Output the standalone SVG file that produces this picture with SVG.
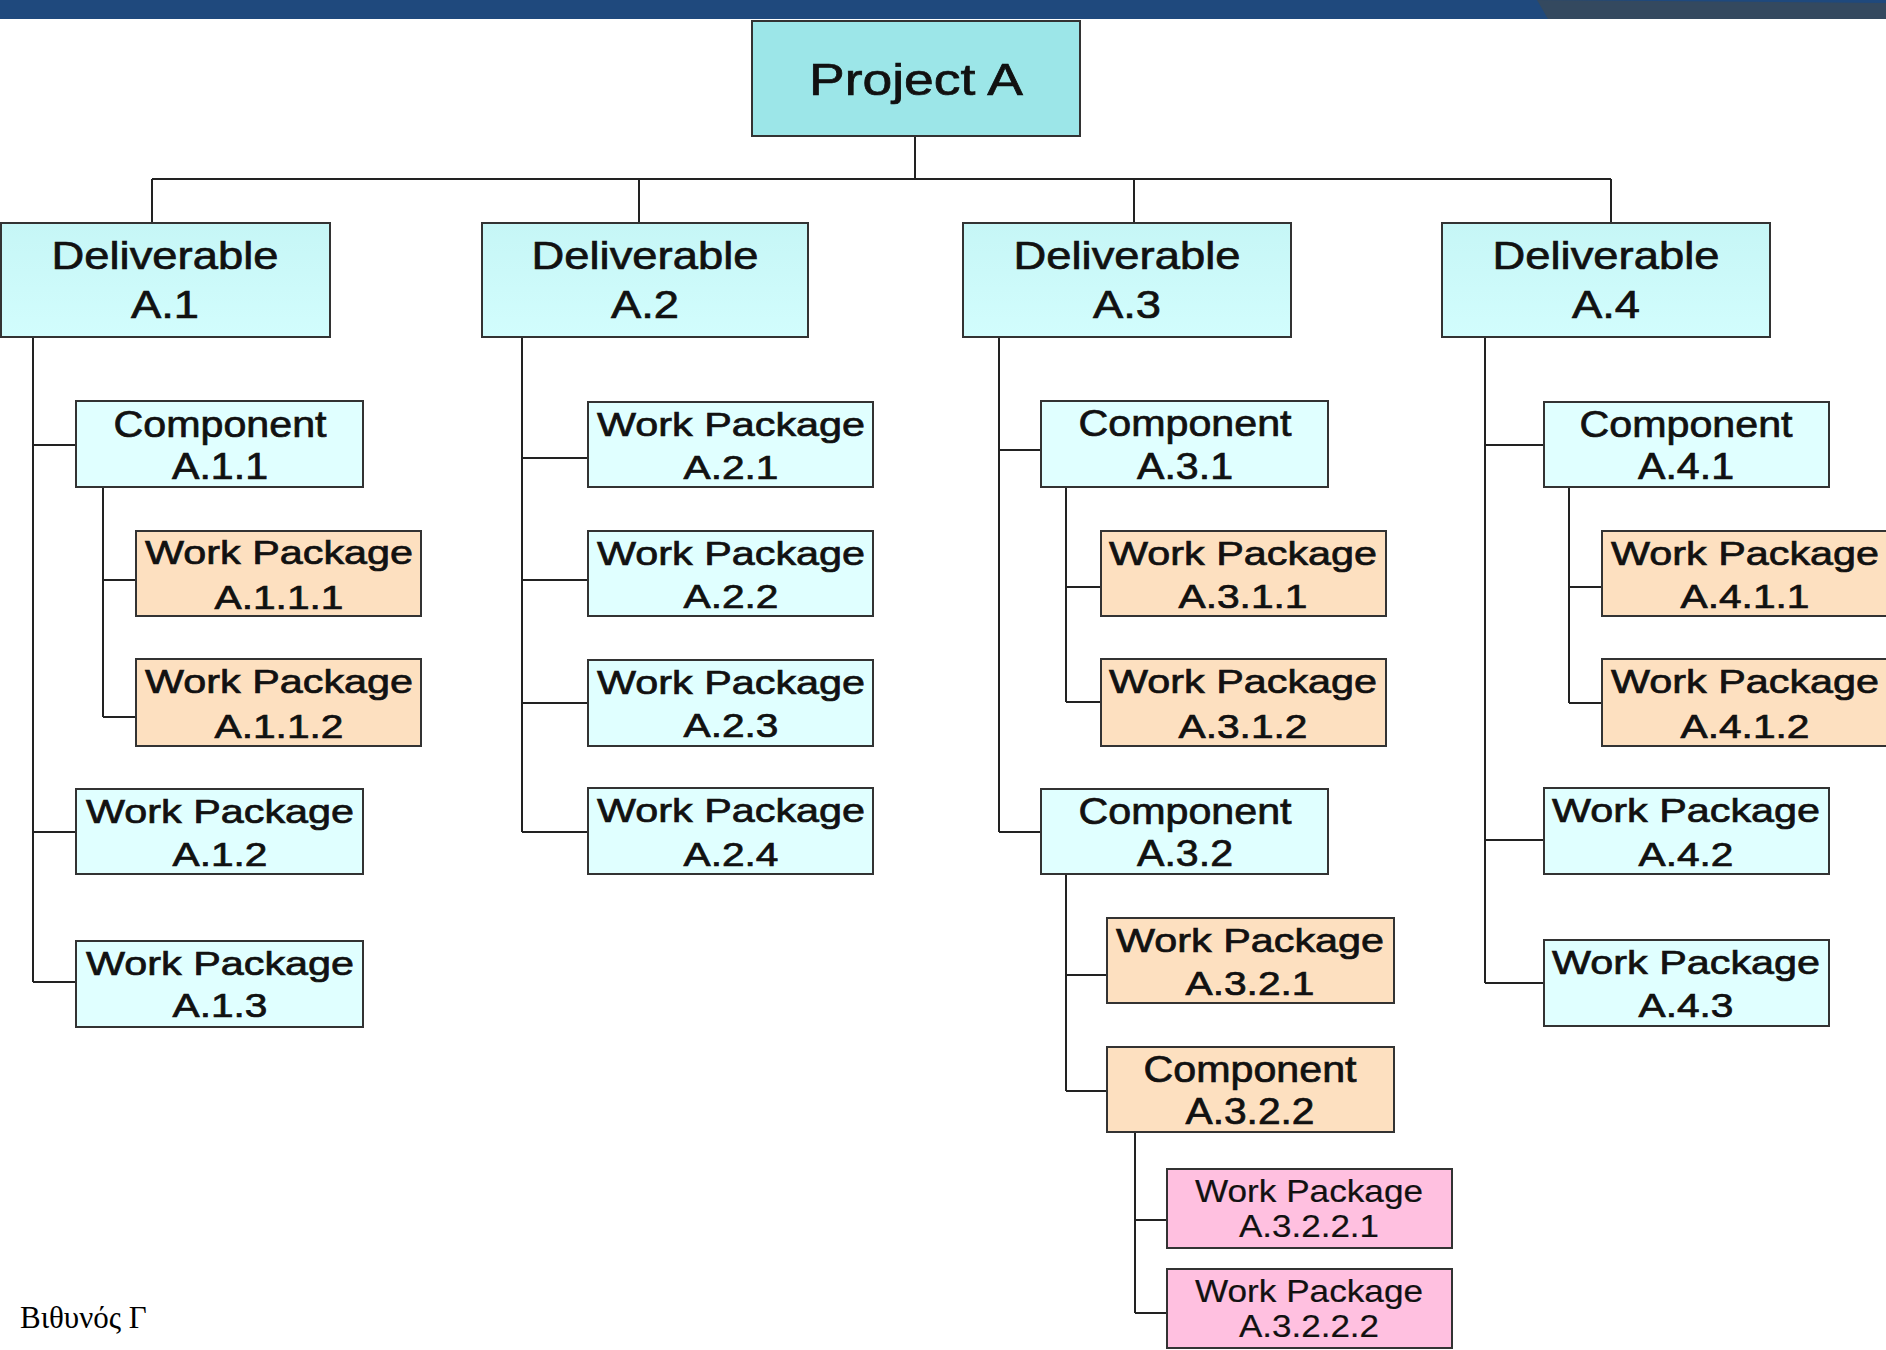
<svg xmlns="http://www.w3.org/2000/svg" width="1886" height="1350" viewBox="0 0 1886 1350">
<defs>
<linearGradient id="gDel" x1="0" y1="0" x2="0" y2="1">
<stop offset="0" stop-color="#C6F6F6"/>
<stop offset="1" stop-color="#D2FDFD"/>
</linearGradient>
<style>
.box{stroke:#333;stroke-width:2}
.proj{fill:#9CE6E8}
.del{fill:url(#gDel)}
.lt{fill:#E0FFFF}
.or{fill:#FDE0C0}
.pk{fill:#FFC0E0}
text{font-family:"Liberation Sans",Arial,sans-serif;fill:#111;text-anchor:middle;stroke:#111;stroke-width:0.7px}
.tP{font-size:44px}
.tD{font-size:39px}
.tC{font-size:36.5px}
.tW{font-size:34px}
.tK{font-size:30.5px;stroke-width:0.2px}
.ln{stroke:#222;stroke-width:2;fill:none}
.foot{font-family:"Liberation Serif","Times New Roman",serif;font-size:31px;text-anchor:start;fill:#000;stroke:none}
</style>
</defs>
<rect x="0" y="0" width="1886" height="1350" fill="#FFFFFF"/>
<g id="topbar">
<rect x="0" y="0" width="1886" height="19" fill="#1F497D"/>
<polygon points="1537,0 1886,0 1886,19 1548,19" fill="#34495F"/>
<polygon points="1537,0 1886,0 1886,3" fill="#1F497D"/>
</g>
<g id="connectors">
<path class="ln" d="M915,136 V179 M152,179 H1611 M152,179 V223 M639,179 V223 M1134,179 V223 M1611,179 V223"/>
<path class="ln" d="M33,337 V982 M33,445 H76 M33,832 H76 M33,982 H76"/>
<path class="ln" d="M103,487 V717 M103,580 H136 M103,717 H136"/>
<path class="ln" d="M522,337 V832 M522,458 H588 M522,580 H588 M522,703 H588 M522,832 H588"/>
<path class="ln" d="M999,337 V832 M999,450 H1041 M999,832 H1041"/>
<path class="ln" d="M1066,487 V702 M1066,587 H1101 M1066,702 H1101"/>
<path class="ln" d="M1066,874 V1091 M1066,975 H1107 M1066,1091 H1107"/>
<path class="ln" d="M1135,1132 V1313 M1135,1220 H1167 M1135,1313 H1167"/>
<path class="ln" d="M1485,337 V983 M1485,445 H1544 M1485,840 H1544 M1485,983 H1544"/>
<path class="ln" d="M1569,487 V703 M1569,587 H1602 M1569,703 H1602"/>
</g>
<g id="projectA"><rect class="box proj" x="752" y="21" width="328" height="115"/><text class="tP" x="916" y="95" textLength="214" lengthAdjust="spacingAndGlyphs">Project A</text></g>
<g id="delA1"><rect class="box del" x="1" y="223" width="329" height="114"/><text class="tD" x="165" y="269" textLength="227" lengthAdjust="spacingAndGlyphs">Deliverable</text><text class="tD" x="165" y="318" textLength="68" lengthAdjust="spacingAndGlyphs">A.1</text></g>
<g id="delA2"><rect class="box del" x="482" y="223" width="326" height="114"/><text class="tD" x="645" y="269" textLength="227" lengthAdjust="spacingAndGlyphs">Deliverable</text><text class="tD" x="645" y="318" textLength="68" lengthAdjust="spacingAndGlyphs">A.2</text></g>
<g id="delA3"><rect class="box del" x="963" y="223" width="328" height="114"/><text class="tD" x="1127" y="269" textLength="227" lengthAdjust="spacingAndGlyphs">Deliverable</text><text class="tD" x="1127" y="318" textLength="68" lengthAdjust="spacingAndGlyphs">A.3</text></g>
<g id="delA4"><rect class="box del" x="1442" y="223" width="328" height="114"/><text class="tD" x="1606" y="269" textLength="227" lengthAdjust="spacingAndGlyphs">Deliverable</text><text class="tD" x="1606" y="318" textLength="68" lengthAdjust="spacingAndGlyphs">A.4</text></g>

<g id="compA11"><rect class="box lt" x="76" y="401" width="287" height="86"/><text class="tC" x="220" y="437" textLength="213" lengthAdjust="spacingAndGlyphs">Component</text><text class="tC" x="220" y="479" textLength="96" lengthAdjust="spacingAndGlyphs">A.1.1</text></g>
<g id="wpA111"><rect class="box or" x="136" y="531" width="285" height="85"/><text class="tW" x="279" y="564" textLength="268" lengthAdjust="spacingAndGlyphs">Work Package</text><text class="tW" x="279" y="609" textLength="129" lengthAdjust="spacingAndGlyphs">A.1.1.1</text></g>
<g id="wpA112"><rect class="box or" x="136" y="659" width="285" height="87"/><text class="tW" x="279" y="693" textLength="268" lengthAdjust="spacingAndGlyphs">Work Package</text><text class="tW" x="279" y="738" textLength="129" lengthAdjust="spacingAndGlyphs">A.1.1.2</text></g>
<g id="wpA12"><rect class="box lt" x="76" y="789" width="287" height="85"/><text class="tW" x="220" y="823" textLength="268" lengthAdjust="spacingAndGlyphs">Work Package</text><text class="tW" x="220" y="866" textLength="95" lengthAdjust="spacingAndGlyphs">A.1.2</text></g>
<g id="wpA13"><rect class="box lt" x="76" y="941" width="287" height="86"/><text class="tW" x="220" y="975" textLength="268" lengthAdjust="spacingAndGlyphs">Work Package</text><text class="tW" x="220" y="1017" textLength="95" lengthAdjust="spacingAndGlyphs">A.1.3</text></g>

<g id="wpA21"><rect class="box lt" x="588" y="402" width="285" height="85"/><text class="tW" x="731" y="436" textLength="268" lengthAdjust="spacingAndGlyphs">Work Package</text><text class="tW" x="731" y="479" textLength="95" lengthAdjust="spacingAndGlyphs">A.2.1</text></g>
<g id="wpA22"><rect class="box lt" x="588" y="531" width="285" height="85"/><text class="tW" x="731" y="565" textLength="268" lengthAdjust="spacingAndGlyphs">Work Package</text><text class="tW" x="731" y="608" textLength="95" lengthAdjust="spacingAndGlyphs">A.2.2</text></g>
<g id="wpA23"><rect class="box lt" x="588" y="660" width="285" height="86"/><text class="tW" x="731" y="694" textLength="268" lengthAdjust="spacingAndGlyphs">Work Package</text><text class="tW" x="731" y="737" textLength="95" lengthAdjust="spacingAndGlyphs">A.2.3</text></g>
<g id="wpA24"><rect class="box lt" x="588" y="788" width="285" height="86"/><text class="tW" x="731" y="822" textLength="268" lengthAdjust="spacingAndGlyphs">Work Package</text><text class="tW" x="731" y="866" textLength="95" lengthAdjust="spacingAndGlyphs">A.2.4</text></g>

<g id="compA31"><rect class="box lt" x="1041" y="401" width="287" height="86"/><text class="tC" x="1185" y="436" textLength="213" lengthAdjust="spacingAndGlyphs">Component</text><text class="tC" x="1185" y="479" textLength="96" lengthAdjust="spacingAndGlyphs">A.3.1</text></g>
<g id="wpA311"><rect class="box or" x="1101" y="531" width="285" height="85"/><text class="tW" x="1243" y="565" textLength="268" lengthAdjust="spacingAndGlyphs">Work Package</text><text class="tW" x="1243" y="608" textLength="129" lengthAdjust="spacingAndGlyphs">A.3.1.1</text></g>
<g id="wpA312"><rect class="box or" x="1101" y="659" width="285" height="87"/><text class="tW" x="1243" y="693" textLength="268" lengthAdjust="spacingAndGlyphs">Work Package</text><text class="tW" x="1243" y="738" textLength="129" lengthAdjust="spacingAndGlyphs">A.3.1.2</text></g>
<g id="compA32"><rect class="box lt" x="1041" y="789" width="287" height="85"/><text class="tC" x="1185" y="824" textLength="213" lengthAdjust="spacingAndGlyphs">Component</text><text class="tC" x="1185" y="866" textLength="96" lengthAdjust="spacingAndGlyphs">A.3.2</text></g>
<g id="wpA321"><rect class="box or" x="1107" y="918" width="287" height="85"/><text class="tW" x="1250" y="952" textLength="268" lengthAdjust="spacingAndGlyphs">Work Package</text><text class="tW" x="1250" y="995" textLength="129" lengthAdjust="spacingAndGlyphs">A.3.2.1</text></g>
<g id="compA322"><rect class="box or" x="1107" y="1047" width="287" height="85"/><text class="tC" x="1250" y="1082" textLength="213" lengthAdjust="spacingAndGlyphs">Component</text><text class="tC" x="1250" y="1124" textLength="129" lengthAdjust="spacingAndGlyphs">A.3.2.2</text></g>
<g id="wpA3221"><rect class="box pk" x="1167" y="1169" width="285" height="79"/><text class="tK" x="1309" y="1202" textLength="228" lengthAdjust="spacingAndGlyphs">Work Package</text><text class="tK" x="1309" y="1237" textLength="140" lengthAdjust="spacingAndGlyphs">A.3.2.2.1</text></g>
<g id="wpA3222"><rect class="box pk" x="1167" y="1269" width="285" height="79"/><text class="tK" x="1309" y="1302" textLength="228" lengthAdjust="spacingAndGlyphs">Work Package</text><text class="tK" x="1309" y="1337" textLength="140" lengthAdjust="spacingAndGlyphs">A.3.2.2.2</text></g>

<g id="compA41"><rect class="box lt" x="1544" y="402" width="285" height="85"/><text class="tC" x="1686" y="437" textLength="213" lengthAdjust="spacingAndGlyphs">Component</text><text class="tC" x="1686" y="479" textLength="96" lengthAdjust="spacingAndGlyphs">A.4.1</text></g>
<g id="wpA411"><rect class="box or" x="1602" y="531" width="290" height="85"/><text class="tW" x="1745" y="565" textLength="268" lengthAdjust="spacingAndGlyphs">Work Package</text><text class="tW" x="1745" y="608" textLength="129" lengthAdjust="spacingAndGlyphs">A.4.1.1</text></g>
<g id="wpA412"><rect class="box or" x="1602" y="659" width="290" height="87"/><text class="tW" x="1745" y="693" textLength="268" lengthAdjust="spacingAndGlyphs">Work Package</text><text class="tW" x="1745" y="738" textLength="129" lengthAdjust="spacingAndGlyphs">A.4.1.2</text></g>
<g id="wpA42"><rect class="box lt" x="1544" y="788" width="285" height="86"/><text class="tW" x="1686" y="822" textLength="268" lengthAdjust="spacingAndGlyphs">Work Package</text><text class="tW" x="1686" y="866" textLength="95" lengthAdjust="spacingAndGlyphs">A.4.2</text></g>
<g id="wpA43"><rect class="box lt" x="1544" y="940" width="285" height="86"/><text class="tW" x="1686" y="974" textLength="268" lengthAdjust="spacingAndGlyphs">Work Package</text><text class="tW" x="1686" y="1017" textLength="95" lengthAdjust="spacingAndGlyphs">A.4.3</text></g>

<text class="foot" x="20" y="1328">Βιθυνός Γ</text>
</svg>
